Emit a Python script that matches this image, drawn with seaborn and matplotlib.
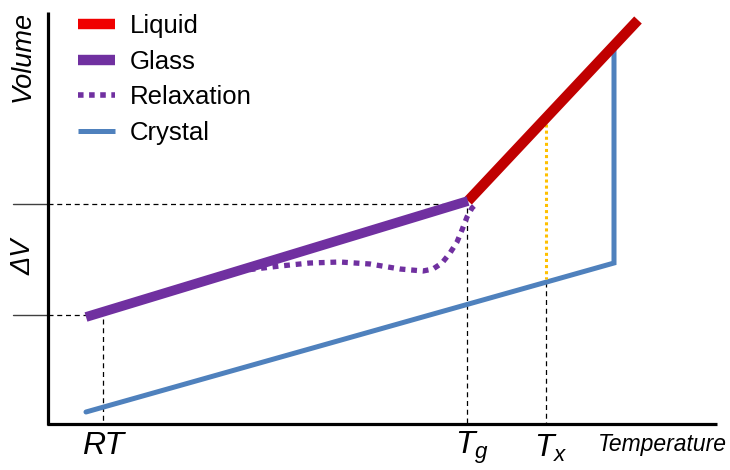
import matplotlib
matplotlib.use("Agg")
import matplotlib.pyplot as plt
import seaborn as sns
import pandas as pd
from matplotlib.lines import Line2D

sns.set_theme(style="white")
plt.rcParams['font.family'] = ['Liberation Sans', 'DejaVu Sans']
plt.rcParams['mathtext.fontset'] = 'custom'
plt.rcParams['mathtext.it'] = 'Liberation Sans:italic'
plt.rcParams['mathtext.rm'] = 'Liberation Sans'
plt.rcParams['text.color'] = 'black'
plt.rcParams['legend.labelcolor'] = 'black'

# ---- data (schematic units: x = temperature, y = volume, screen-like, y grows downward) ----
glass_t = [86, 468]
glass_v = [317, 201]
liquid_t = [468, 638]
liquid_v = [201, 20]
crystal_t = [86, 614, 614]
crystal_v = [412, 263, 50]
relax_t = [238, 280, 310, 340, 370, 400, 423, 433, 442, 450, 457, 462, 467, 472, 478]
relax_v = [271, 266, 263, 262, 264, 269, 271, 269, 263, 253, 242, 230, 217, 208, 202]
tx_t = [546, 546]
tx_v = [124, 279]

t_rt, t_g, t_x = 103, 467, 546
v_glass_rt, v_tg = 315, 204
legend_labels = ["Liquid", "Glass", "Relaxation", "Crystal"]

C_LIQ = "#C00000"
C_LIQ_LEG = "#F00000"
C_GLASS = "#7030A0"
C_CRYS = "#4F81BD"
C_TX = "#FFC000"

fig = plt.figure(figsize=(7.3, 4.7), dpi=100)
ax = fig.add_axes([0, 0, 1, 1])
ax.set_xlim(0, 730)
ax.set_ylim(470, 0)
ax.axis("off")

# guide lines
dash = dict(color="black", lw=0.9, ls=(0, (4, 3)))
ax.plot([48, t_g], [v_tg, v_tg], **dash)
ax.plot([48, 86], [v_glass_rt, v_glass_rt], **dash)
ax.plot([t_rt, t_rt], [v_glass_rt + 4, 424], **dash)
ax.plot([t_g, t_g], [v_tg + 4, 424], **dash)
ax.plot([t_x, t_x], [282, 424], **dash)
ax.plot([13, 48], [v_tg, v_tg], color="#404040", lw=1.0)
ax.plot([13, 48], [v_glass_rt, v_glass_rt], color="#404040", lw=1.0)

# series
df_c = pd.DataFrame({"t": crystal_t, "v": crystal_v})
sns.lineplot(data=df_c, x="t", y="v", sort=False, estimator=None, ax=ax,
             color=C_CRYS, lw=3.6, solid_joinstyle="miter")
df_tx = pd.DataFrame({"t": tx_t, "v": tx_v})
sns.lineplot(data=df_tx, x="t", y="v", sort=False, estimator=None, ax=ax,
             color=C_TX, lw=2.2, ls=(0, (1, 1)), dash_capstyle="butt")
df_l = pd.DataFrame({"t": liquid_t, "v": liquid_v})
sns.lineplot(data=df_l, x="t", y="v", sort=False, estimator=None, ax=ax,
             color=C_LIQ, lw=7.5, solid_capstyle="butt")
df_g = pd.DataFrame({"t": glass_t, "v": glass_v})
sns.lineplot(data=df_g, x="t", y="v", sort=False, estimator=None, ax=ax,
             color=C_GLASS, lw=7.0, solid_capstyle="butt")
df_r = pd.DataFrame({"t": relax_t, "v": relax_v})
sns.lineplot(data=df_r, x="t", y="v", sort=False, estimator=None, ax=ax,
             color=C_GLASS, lw=3.8, ls=(0, (1.1, 1.1)), dash_capstyle="butt")

# axes lines
ax.plot([48, 48], [12, 425], color="black", lw=2.3, solid_capstyle="butt")
ax.plot([47, 717], [424, 424], color="black", lw=2.3, solid_capstyle="butt")

# labels
ax.text(23, 56, "Volume", rotation=90, ha="center", va="center",
        fontsize=19.5, style="italic")
ax.text(24, 257, "ΔV", rotation=90, ha="center", va="center",
        fontsize=19.5, style="italic")
ax.text(t_rt, 446, "RT", ha="center", va="center", fontsize=23, style="italic")
ax.text(t_g + 5, 448, r"$T_g$", ha="center", va="center", fontsize=23)
ax.text(t_x + 5, 448, r"$T_x$", ha="center", va="center", fontsize=23)
ax.text(662, 444, "Temperature", ha="center", va="center", fontsize=16.5,
        style="italic")

handles = [
    Line2D([], [], color=C_LIQ_LEG, lw=7.5, solid_capstyle="butt"),
    Line2D([], [], color=C_GLASS, lw=7.5, solid_capstyle="butt"),
    Line2D([], [], color=C_GLASS, lw=4, ls=(0, (1, 1)), dash_capstyle="butt"),
    Line2D([], [], color=C_CRYS, lw=3.6, solid_capstyle="butt"),
]
ax.legend(handles, legend_labels, loc="upper left",
          bbox_to_anchor=(78 / 730, 1 - 14 / 470), frameon=False,
          fontsize=18.5, handlelength=1.44, handletextpad=0.58,
          labelspacing=0.45, borderpad=0, borderaxespad=0)

fig.savefig("out.png", dpi=100)
